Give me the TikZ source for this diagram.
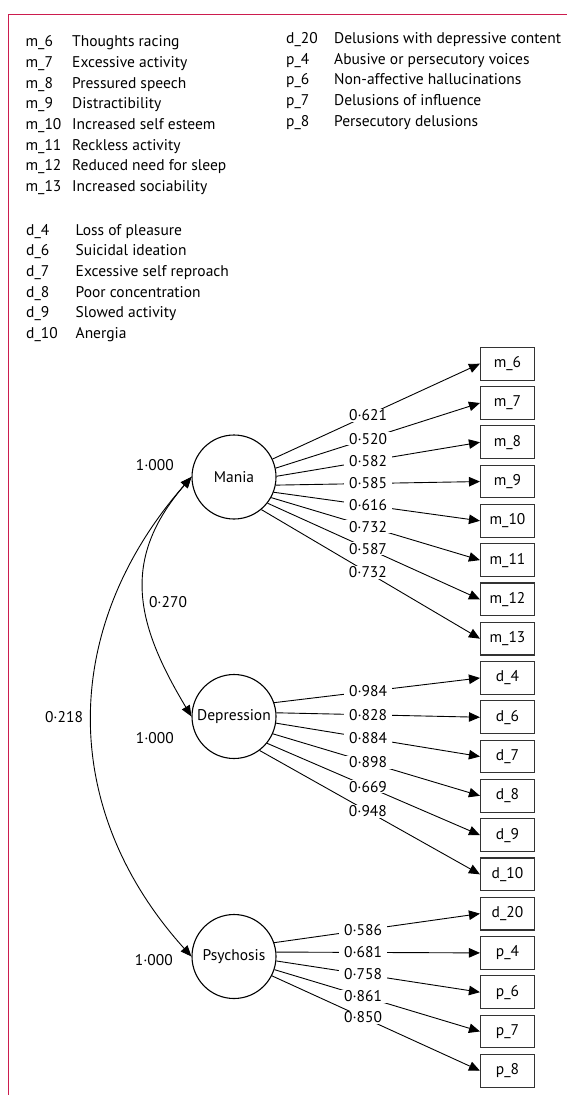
\documentclass[tikz,border=0pt]{standalone}
\usepackage{fontspec}
\setmainfont{PT Sans}
\usetikzlibrary{arrows.meta, positioning}
\definecolor{framered}{RGB}{204,28,78}
\newcommand{\lblsize}{\fontsize{15.5}{18}\selectfont}

\begin{document}
\begin{tikzpicture}[x=1pt, y=-1pt,
  every node/.style={font=\lblsize, inner sep=0pt},
  latent/.style={draw, circle, line width=1.1pt, minimum size=84pt},
  item/.style={draw=black!80, line width=1.1pt, minimum width=54pt, minimum height=32.7pt},
  load/.style={line width=0.9pt, -{Triangle[length=11pt,width=9.5pt]}},
  corr/.style={line width=0.9pt, {Triangle[length=11pt,width=9pt]}-{Triangle[length=11pt,width=9pt]}},
  coef/.style={fill=white, inner xsep=5pt, inner ysep=1pt},
  legtxt/.style={anchor=base west}]
  \useasboundingbox (0,0) rectangle (567,1095);
  \draw[framered, line width=1.5pt] (8.7,1095) -- (8.7,14.3) -- (567,14.3);

  \foreach \code/\txt [count=\i from 0] in {m\_6/Thoughts racing, m\_7/Excessive activity,
      m\_8/Pressured speech, m\_9/Distractibility, m\_10/Increased self esteem,
      m\_11/Reckless activity, m\_12/Reduced need for sleep, m\_13/Increased sociability} {
    \node[legtxt] (mcode\i) at (25.4, 46.7+20.7*\i) {\code};
    \node[legtxt] (mtext\i) at (72, 46.7+20.7*\i) {\txt};
  }
  \foreach \code/\txt [count=\i from 0] in {d\_4/Loss of pleasure, d\_6/Suicidal ideation,
      d\_7/Excessive self reproach, d\_8/Poor concentration, d\_9/Slowed activity, d\_10/Anergia} {
    \node[legtxt] (dcode\i) at (26, 235.3+20.6*\i) {\code};
    \node[legtxt] (dtext\i) at (75.5, 235.3+20.6*\i) {\txt};
  }
  \foreach \code/\txt [count=\i from 0] in {d\_20/Delusions with depressive content,
      p\_4/Abusive or persecutory voices, p\_6/Non-affective hallucinations,
      p\_7/Delusions of influence, p\_8/Persecutory delusions} {
    \node[legtxt] (pcode\i) at (286, 43.3+20.8*\i) {\code};
    \node[legtxt] (ptext\i) at (334, 43.3+20.8*\i) {\txt};
  }

  \node[latent] (mania) at (234,477)   {Mania};
  \node[latent] (dep)   at (234,716.5) {Depression};
  \node[latent] (psy)   at (234,956.5) {Psychosis};

  \foreach \n/\t [count=\k from 0] in {m6/m\_6, m7/m\_7, m8/m\_8, m9/m\_9, m10/m\_10,
      m11/m\_11, m12/m\_12, m13/m\_13, d4/d\_4, d6/d\_6, d7/d\_7, d8/d\_8, d9/d\_9,
      d10/d\_10, d20/d\_20, p4/p\_4, p6/p\_6, p7/p\_7, p8/p\_8}
    \node[item] (\n) at (507.5, 363.7+39.28*\k) {\t};

  \foreach \a/\b/\v in {25/m6/0·621, 12/m7/0·520, 1/m8/0·582, -11/m9/0·585,
      -21/m10/0·616, -29/m11/0·732, -38/m12/0·587, -50/m13/0·732} {
    \pgfmathsetmacro{\p}{(368-234-42*cos(\a))/(480.5-234-42*cos(\a))}
    \draw[load] (mania.\a) -- node[coef, pos=\p] {\v} (\b.west);
  }
  \foreach \a/\b/\v in {19.5/d4/0·984, 5/d6/0·828, -9/d7/0·884, -24/d8/0·898,
      -39/d9/0·669, -53/d10/0·948} {
    \pgfmathsetmacro{\p}{(368-234-42*cos(\a))/(480.5-234-42*cos(\a))}
    \draw[load] (dep.\a) -- node[coef, pos=\p] {\v} (\b.west);
  }
  \foreach \a/\b/\v in {19/d20/0·586, 6/p4/0·681, -6/p6/0·758, -18/p7/0·861, -27/p8/0·850} {
    \pgfmathsetmacro{\p}{(363-234-42*cos(\a))/(480.5-234-42*cos(\a))}
    \draw[load] (psy.\a) -- node[coef, pos=\p] {\v} (\b.west);
  }

  \draw[corr] (mania.west) .. controls (120,560) and (136,624) .. (dep.west);
  \draw[corr] (mania.west) .. controls (60,627) and (58,808.5) .. (psy.west);
  \node (r270) at (168,602) {0·270};
  \node (r218) at (64,717) {0·218};

  \node[anchor=east] (vmania) at (174,465) {1·000};
  \node[anchor=east] (vdep)   at (174,738) {1·000};
  \node[anchor=east] (vpsy)   at (173,960) {1·000};
\end{tikzpicture}
\end{document}
